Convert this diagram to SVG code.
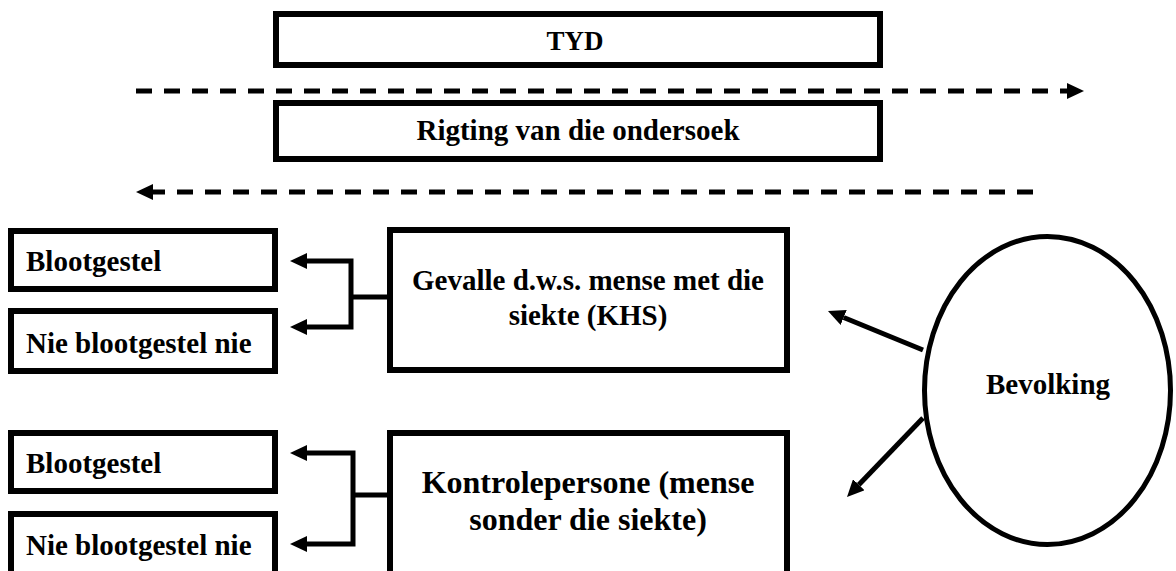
<svg xmlns="http://www.w3.org/2000/svg" width="1176" height="571" viewBox="0 0 1176 571">
<style>
  .box { fill: #fff; stroke: #000; stroke-width: 6; }
  .t { font-family: "Liberation Serif", "Times New Roman", serif; font-weight: bold; font-size: 29px; fill: #000; }
  .c { text-anchor: middle; }
  .dash { fill: none; stroke: #000; stroke-width: 5; stroke-dasharray: 16 12; }
  .con { fill: none; stroke: #000; stroke-width: 5; }
</style>
<defs>
  <marker id="head" markerUnits="userSpaceOnUse" markerWidth="17" markerHeight="16" refX="0" refY="8" orient="auto-start-reverse" viewBox="0 0 17 16">
    <path d="M0,0 L17,8 L0,16 z" fill="#000"/>
  </marker>
</defs>
<rect width="1176" height="571" fill="#fff"/>

<g id="tyd">
  <rect class="box" x="276" y="14" width="604" height="51"/>
  <text class="t c" x="575" y="50" style="font-size:27px">TYD</text>
</g>
<g id="rigting">
  <rect class="box" x="276" y="103" width="604" height="56"/>
  <text class="t c" x="578" y="140">Rigting van die ondersoek</text>
</g>
<g id="blootgestel1">
  <rect class="box" x="11" y="231" width="264" height="58"/>
  <text class="t" x="26" y="271">Blootgestel</text>
</g>
<g id="nieblootgestel1">
  <rect class="box" x="11" y="311" width="264" height="60"/>
  <text class="t" x="26" y="353">Nie blootgestel nie</text>
</g>
<g id="gevalle">
  <rect class="box" x="390" y="230" width="397" height="140"/>
  <text class="t c" x="588" y="290">Gevalle d.w.s. mense met die</text>
  <text class="t c" x="588" y="325">siekte (KHS)</text>
</g>
<g id="blootgestel2">
  <rect class="box" x="11" y="433" width="264" height="58"/>
  <text class="t" x="26" y="473">Blootgestel</text>
</g>
<g id="nieblootgestel2">
  <rect class="box" x="11" y="514" width="264" height="100"/>
  <text class="t" x="26" y="555">Nie blootgestel nie</text>
</g>
<g id="kontrole">
  <rect class="box" x="390" y="433" width="397" height="200"/>
  <text class="t c" x="588" y="493" style="font-size:32px">Kontrolepersone (mense</text>
  <text class="t c" x="588" y="530" style="font-size:32px">sonder die siekte)</text>
</g>
<g id="bevolking">
  <ellipse cx="1047.5" cy="390.5" rx="123" ry="154" fill="#fff" stroke="#000" stroke-width="5"/>
  <text class="t c" x="1048" y="394">Bevolking</text>
</g>

<g id="connectors">
  <line class="dash" x1="136" y1="91" x2="1067" y2="91" marker-end="url(#head)"/>
  <line class="dash" x1="1033" y1="192" x2="153" y2="192" marker-end="url(#head)"/>
  <path class="con" d="M307,261 H351 V327 H307" marker-start="url(#head)" marker-end="url(#head)"/>
  <path class="con" d="M351,297 H387"/>
  <path class="con" d="M307,453 H353 V544 H307" marker-start="url(#head)" marker-end="url(#head)"/>
  <path class="con" d="M353,495 H387"/>
  <line class="con" x1="923" y1="350" x2="843.7" y2="317.5" marker-end="url(#head)"/>
  <line class="con" x1="923" y1="418" x2="858.8" y2="484.7" marker-end="url(#head)"/>
</g>
</svg>
